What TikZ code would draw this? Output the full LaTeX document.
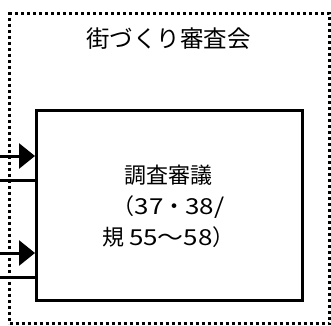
\documentclass[tikz,border=0pt]{standalone}
\usepackage{fontspec}
\newfontfamily\jp{Noto Sans CJK JP}
\newfontfamily\jpw[FakeStretch=1.18]{Noto Sans CJK JP}
\usetikzlibrary{arrows.meta}
\begin{document}
\begin{tikzpicture}[x=1pt,y=-1pt,
  outerbox/.style={draw, line width=3pt, dash pattern=on 3pt off 3pt, minimum width=320pt, minimum height=310pt, inner sep=0pt},
  innerbox/.style={draw, line width=3pt, minimum width=266pt, minimum height=190pt, inner sep=0pt},
  feed/.style={line width=3pt},
  feedarrow/.style={line width=3pt, -{Triangle[length=16pt,width=25pt]}},
  label/.style={font=\jp\fontsize{22}{31}\selectfont, align=center, inner sep=0pt}]
\useasboundingbox (0,0) rectangle (331,325);
\node[outerbox] (outer) at (169.5,168.5) {};
\node[innerbox] (box) at (169.5,205.5) {};
\node[label, font=\jp\fontsize{23.5}{28}\selectfont] (title) at (168.5,39) {街づくり審査会};
\node[label] (txt) at (168.5,206) {調査審議\\（{\jpw 37}・{\jpw 38/}\\規 {\jpw 55～58}）};
\coordinate (a1) at (0,156);
\coordinate (l1) at (0,180.5);
\coordinate (a2) at (0,253);
\coordinate (l2) at (0,277);
\draw[feedarrow] (a1) -- (a1 -| box.west);
\draw[feed] (l1) -- (l1 -| box.west);
\draw[feedarrow] (a2) -- (a2 -| box.west);
\draw[feed] (l2) -- (l2 -| box.west);
\end{tikzpicture}
\end{document}
